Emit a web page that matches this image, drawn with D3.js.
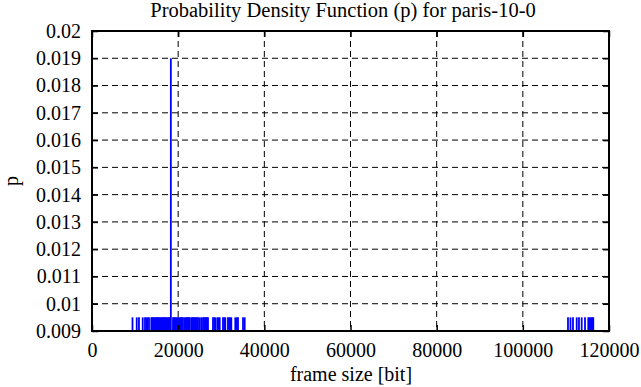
<!DOCTYPE html>
<html>
<head>
<meta charset="utf-8">
<script src="https://cdn.jsdelivr.net/npm/d3@7"></script>
<style>
  body { margin: 0; background: #fff; }
  svg { display: block; }
  svg text { font-family: "Liberation Serif", "Times New Roman", Times, "DejaVu Serif", serif; fill: #000; }
</style>
</head>
<body>
<svg id="chart" width="641" height="387"></svg>
<script>
// ---- data ----
const title = "Probability Density Function (p) for paris-10-0";
const xLabel = "frame size [bit]";
const yLabel = "p";
const xTicks = [0, 20000, 40000, 60000, 80000, 100000, 120000];
const yTicks = [0.009, 0.01, 0.011, 0.012, 0.013, 0.014, 0.015, 0.016, 0.017, 0.018, 0.019, 0.02];
const yTickLabels = ["0.009", "0.01", "0.011", "0.012", "0.013", "0.014", "0.015", "0.016", "0.017", "0.018", "0.019", "0.02"];
// frame sizes [bit] with small probability
const frameSizes = [
  9400, 10380, 10900, 11770, 12300, 12650, 12880, 13230,
  13760, 13950, 14100, 14330, 14500, 14700, 14900, 15100, 15300, 15480, 15700, 15900, 16100, 16330,
  16500, 16700, 16900, 17100, 17300, 17500, 17750, 17950, 18100,
  18800, 19000, 19200, 19400, 19650, 19850, 20050, 20250, 20520, 20700, 20900, 21120,
  21520, 21700, 21900, 22100, 22300, 22500, 22680,
  23050, 23250, 23450, 23650, 23850, 24050, 24250, 24450, 24600,
  25000, 25370, 25760, 26000, 26250, 26500, 26700, 26920,
  28080, 28400, 28620, 29080, 29400, 29640,
  30400, 30700, 30940, 31560, 31850, 32100, 32330,
  33260, 33600, 33890, 35050, 35440,
  110480, 111060, 111640, 112500, 113030, 113660, 114430,
  115190, 115450, 115700, 115950, 116200, 116350
];
const smallP = frameSizes.map(() => 0.0095);
// dominant frame size
const peakSize = [18300];
const peakP = [0.019];

// ---- layout ----
const svg = d3.select("#chart");
const pLeft = 92, pRight = 609, pTop = 31, pBottom = 331;
const x = d3.scaleLinear().domain([0, 120000]).range([pLeft, pRight]);
const y = d3.scaleLinear().domain([0.009, 0.02]).range([pBottom, pTop]);
const FONT = '"Liberation Serif", "Times New Roman", Times, "DejaVu Serif", serif';

// grid
const g = svg.append("g");
g.selectAll("line.gx").data(xTicks.slice(1, -1)).enter().append("line")
  .attr("x1", d => x(d)).attr("x2", d => x(d)).attr("y1", pTop).attr("y2", pBottom)
  .attr("stroke", "#000").attr("stroke-width", 1).attr("stroke-dasharray", "6,4");
g.selectAll("line.gy").data(yTicks.slice(1, -1)).enter().append("line")
  .attr("y1", d => y(d)).attr("y2", d => y(d)).attr("x1", pLeft).attr("x2", pRight)
  .attr("stroke", "#000").attr("stroke-width", 1).attr("stroke-dasharray", "6,4");

// impulses
const impulses = frameSizes.map((s, i) => ({ s, p: smallP[i] }))
  .concat(peakSize.map((s, i) => ({ s, p: peakP[i] })));
svg.append("g").selectAll("line").data(impulses).enter().append("line")
  .attr("x1", d => x(d.s)).attr("x2", d => x(d.s))
  .attr("y1", y(0.009)).attr("y2", d => y(d.p))
  .attr("stroke", "#0000ff").attr("stroke-width", 1.8);

// axes (ticks inward on all sides)
const tl = 6;
const axB = svg.append("g").attr("transform", `translate(0,${pBottom})`)
  .call(d3.axisBottom(x).tickValues(xTicks).tickSize(-tl).tickPadding(12).tickFormat(d3.format("d")));
const axT = svg.append("g").attr("transform", `translate(0,${pTop})`)
  .call(d3.axisTop(x).tickValues(xTicks).tickSize(-tl).tickFormat(""));
const axL = svg.append("g").attr("transform", `translate(${pLeft},0)`)
  .call(d3.axisLeft(y).tickValues(yTicks).tickSize(-tl).tickPadding(11).tickFormat((d, i) => yTickLabels[i]));
const axR = svg.append("g").attr("transform", `translate(${pRight},0)`)
  .call(d3.axisRight(y).tickValues(yTicks).tickSize(-tl).tickFormat(""));
[axB, axT, axL, axR].forEach(a => {
  a.attr("font-family", null).attr("font-size", null);
  a.select(".domain").remove();
  a.selectAll(".tick line").attr("stroke", "#000").attr("stroke-width", 1.5);
  a.selectAll("text").style("font-family", FONT).style("font-size", "20px").attr("fill", "#000");
});
axB.selectAll("text").attr("dy", "0.71em");
axL.selectAll("text").attr("dy", "0.32em");

// frame
svg.append("rect").attr("x", pLeft).attr("y", pTop).attr("width", pRight - pLeft).attr("height", pBottom - pTop)
  .attr("fill", "none").attr("stroke", "#000").attr("stroke-width", 2);

// labels
svg.append("text").attr("x", 343).attr("y", 17).attr("text-anchor", "middle")
  .style("font-family", FONT).style("font-size", "20.5px").text(title);
svg.append("text").attr("x", 351).attr("y", 381).attr("text-anchor", "middle")
  .style("font-family", FONT).style("font-size", "20px").text(xLabel);
svg.append("text").attr("transform", "translate(18,181) rotate(-90)").attr("text-anchor", "middle")
  .style("font-family", FONT).style("font-size", "20px").text(yLabel);
</script>
</body>
</html>
